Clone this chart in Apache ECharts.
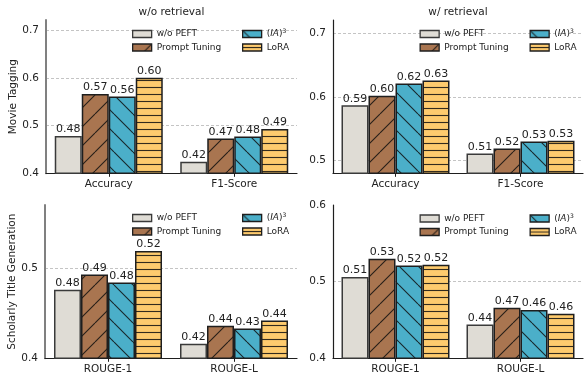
<!DOCTYPE html>
<html>
<head>
<meta charset="utf-8">
<script src="https://cdn.jsdelivr.net/npm/echarts@6/dist/echarts.min.js"></script>
<style>
  html, body { margin: 0; padding: 0; background: #ffffff; }
  #chart { width: 584px; height: 378px; }
</style>
</head>
<body>
<div id="chart"></div>
<script>
// ---------- data ----------
const methods = ['w/o PEFT', 'Prompt Tuning', '(IA)^3', 'LoRA'];
const movieCategories = ['Accuracy', 'F1-Score'];
const titleCategories = ['ROUGE-1', 'ROUGE-L'];
const columnTitles = ['w/o retrieval', 'w/ retrieval'];
const rowNames = ['Movie Tagging', 'Scholarly Title Generation'];

// Movie Tagging, w/o retrieval
const movieNoRetWoPeft = [0.478, 0.424];
const movieNoRetPrompt = [0.566, 0.473];
const movieNoRetIA3 = [0.561, 0.477];
const movieNoRetLoRA = [0.600, 0.493];
// Movie Tagging, w/ retrieval
const movieRetWoPeft = [0.587, 0.511];
const movieRetPrompt = [0.602, 0.519];
const movieRetIA3 = [0.621, 0.530];
const movieRetLoRA = [0.626, 0.531];
// Scholarly Title Generation, w/o retrieval
const titleNoRetWoPeft = [0.476, 0.416];
const titleNoRetPrompt = [0.493, 0.436];
const titleNoRetIA3 = [0.484, 0.433];
const titleNoRetLoRA = [0.519, 0.442];
// Scholarly Title Generation, w/ retrieval
const titleRetWoPeft = [0.506, 0.444];
const titleRetPrompt = [0.530, 0.466];
const titleRetIA3 = [0.521, 0.463];
const titleRetLoRA = [0.522, 0.458];

// y-axis ranges per panel
const yMinList = [0.4, 0.48, 0.4, 0.4];
const yMaxList = [0.721, 0.721, 0.57, 0.6];

// ---------- styling ----------
const FONT = 'DejaVu Sans';
const fills = ['#DFDCD5', '#A97550', '#4BAFC9', '#FECB6E'];
const edges = ['#3a3a3a', '#1e1e1e', '#1e1e1e', '#1e1e1e'];
const hatchTypes = [null, 'ne', 'nw', 'h'];
const hatchColor = 'rgba(15,15,15,0.85)';

function makePattern(bg, type) {
  if (!type) return bg;
  const c = document.createElement('canvas');
  const ctx = c.getContext('2d');
  if (type === 'h') {
    c.width = 8; c.height = 7;
    ctx.fillStyle = bg; ctx.fillRect(0, 0, 8, 7);
    ctx.strokeStyle = hatchColor; ctx.lineWidth = 1.1;
    ctx.beginPath(); ctx.moveTo(0, 3.5); ctx.lineTo(8, 3.5); ctx.stroke();
  } else {
    const P = 19;
    c.width = P; c.height = P;
    ctx.fillStyle = bg; ctx.fillRect(0, 0, P, P);
    ctx.strokeStyle = hatchColor; ctx.lineWidth = 1.1;
    ctx.beginPath();
    for (const k of [-1, 0, 1]) {
      if (type === 'ne') { ctx.moveTo(k * P, P); ctx.lineTo(k * P + P, 0); }
      else { ctx.moveTo(k * P, 0); ctx.lineTo(k * P + P, P); }
    }
    ctx.stroke();
  }
  return { image: c, repeat: 'repeat' };
}
const fillStyles = fills.map((f, i) => makePattern(f, hatchTypes[i]));

const panels = [
  { cats: movieCategories, data: [movieNoRetWoPeft, movieNoRetPrompt, movieNoRetIA3, movieNoRetLoRA],
    grid: { left: 46, top: 20, width: 251, height: 153.3 }, col: 0, row: 0 },
  { cats: movieCategories, data: [movieRetWoPeft, movieRetPrompt, movieRetIA3, movieRetLoRA],
    grid: { left: 333, top: 20, width: 250, height: 153.3 }, col: 1, row: 0 },
  { cats: titleCategories, data: [titleNoRetWoPeft, titleNoRetPrompt, titleNoRetIA3, titleNoRetLoRA],
    grid: { left: 45, top: 205, width: 252, height: 153.3 }, col: 0, row: 1 },
  { cats: titleCategories, data: [titleRetWoPeft, titleRetPrompt, titleRetIA3, titleRetLoRA],
    grid: { left: 333, top: 205, width: 250, height: 153.3 }, col: 1, row: 1 }
];

// legend placement: [col1 left, col2 left, row1 top]
const legendPos = [
  [132, 242, 28.5],
  [419.5, 529.5, 28.5],
  [132, 242, 212.5],
  [419.5, 529.5, 213]
];

const grids = [], xAxes = [], yAxes = [], series = [], legends = [];

panels.forEach((p, pi) => {
  grids.push(Object.assign({ containLabel: false }, p.grid));
  xAxes.push({
    type: 'category', gridIndex: pi, data: p.cats,
    axisLine: { show: true, lineStyle: { color: '#1e1e1e', width: 1.2 } },
    axisTick: { show: true, alignWithLabel: true, length: 3.5, lineStyle: { color: '#1e1e1e', width: 1 } },
    axisLabel: { fontFamily: FONT, fontSize: 10.5, color: '#222', margin: 5 },
    splitLine: { show: false }
  });
  yAxes.push({
    type: 'value', gridIndex: pi, min: yMinList[pi], max: yMaxList[pi],
    minInterval: 0.1, maxInterval: 0.1,
    name: p.col === 0 ? rowNames[p.row] : '',
    nameLocation: 'middle', nameGap: 27, nameRotate: 90,
    nameTextStyle: { fontFamily: FONT, fontSize: 10.5, color: '#222' },
    axisLine: { show: true, lineStyle: p.col === 0 ? { color: '#808080', width: 2 } : { color: '#1e1e1e', width: 1.2 } },
    axisTick: { show: false },
    axisLabel: {
      fontFamily: FONT, fontSize: 10.5, color: '#222', margin: 7,
      formatter: v => (Math.abs(v * 10 - Math.round(v * 10)) < 1e-6 ? v.toFixed(1) : '')
    },
    splitLine: { show: true, showMinLine: false, showMaxLine: false,
      lineStyle: { type: [3, 2], color: '#b5b5b5', width: 0.8 } }
  });
  methods.forEach((m, mi) => {
    series.push({
      type: 'bar', name: m, xAxisIndex: pi, yAxisIndex: pi,
      data: p.data[mi], barWidth: 27, barGap: '0%',
      itemStyle: { color: fillStyles[mi], borderColor: edges[mi], borderWidth: 1.5 },
      label: { show: true, position: 'top', distance: 1, fontFamily: FONT, fontSize: 11, color: '#222',
        formatter: d => d.value.toFixed(2) },
      emphasis: { disabled: true }
    });
  });
  const lp = legendPos[pi];
  [[methods[0], methods[1]], [methods[2], methods[3]]].forEach((names, ci) => {
    legends.push({
      data: names, orient: 'vertical', left: lp[ci], top: lp[2], padding: 0,
      itemWidth: 19, itemHeight: 7, itemGap: 2.5, icon: 'rect', selectedMode: false,
      itemStyle: { borderWidth: 1.3 },
      formatter: n => n === '(IA)^3' ? '{n|(}{i|IA}{n|)}{s|3}' : n,
      textStyle: { fontFamily: FONT, fontSize: 9, color: '#222', lineHeight: 11,
        rich: {
          n: { fontFamily: FONT, fontSize: 9, color: '#222', lineHeight: 11 },
          i: { fontFamily: FONT, fontSize: 9, fontStyle: 'italic', color: '#222', lineHeight: 11 },
          s: { fontFamily: FONT, fontSize: 6, color: '#222', verticalAlign: 'top', lineHeight: 11 }
        } }
    });
  });
});

const chart = echarts.init(document.getElementById('chart'), null, { renderer: 'canvas' });
chart.setOption({
  animation: false,
  backgroundColor: '#ffffff',
  textStyle: { fontFamily: FONT },
  grid: grids, xAxis: xAxes, yAxis: yAxes, series: series, legend: legends,
  graphic: [
    { type: 'text', x: 171.5, y: 12.5, style: { text: columnTitles[0], fontFamily: FONT, fontSize: 10.5, fill: '#222', textAlign: 'center', textVerticalAlign: 'middle' } },
    { type: 'text', x: 458, y: 12.5, style: { text: columnTitles[1], fontFamily: FONT, fontSize: 10.5, fill: '#222', textAlign: 'center', textVerticalAlign: 'middle' } }
  ]
});
</script>
</body>
</html>
